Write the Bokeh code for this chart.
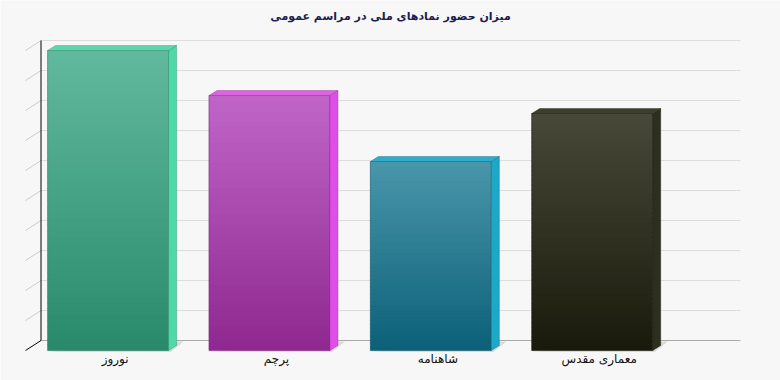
import numpy as np
from bokeh.plotting import figure
from bokeh.models import Range1d
from bokeh.core.properties import value
from bokeh.embed import file_html
from bokeh.resources import INLINE

# ---------------- data ----------------
title_text = "میزان حضور نمادهای ملی در مراسم عمومی"
categories = ["نوروز", "پرچم", "شاهنامه", "معماری مقدس"]
values = [100, 85, 63, 79]
y_ticks = list(range(0, 101, 10))

front_top_colors = ["#62b99e", "#c065c8", "#4a96aa", "#484838"]
front_bottom_colors = ["#288a6a", "#8e288e", "#0b6078", "#1a1a0c"]
side_colors = ["#4fd8a8", "#e04ee8", "#1ea8c8", "#2c2e1e"]
topface_colors = ["#5cd8ac", "#dc64e0", "#2eaccb", "#3c3e2e"]
edge_colors = ["#2a7e62", "#86268a", "#0c5a70", "#141408"]

# ---------------- geometry ----------------
W, H = 780, 380
x_start, x_end = -0.6667, 4.1667
y_start, y_end = -10.0, 116.667
PX = (x_end - x_start) / W      # data units per pixel (x)
PY = (y_end - y_start) / H      # data units per pixel (y)

half_w = 60.5 * PX
bar_dx, bar_dy = 8 * PX, 5 * PY
wall_dx, wall_dy = 15 * PX, 10 * PY
front_left = x_start + 25 * PX
wall_left = x_start + 40.5 * PX
wall_right = x_start + 740 * PX


def hex2rgb(h):
    h = h.lstrip("#")
    return np.array([int(h[i:i + 2], 16) for i in (0, 2, 4)], dtype=float)


def rgb2hex(c):
    c = np.clip(np.round(c), 0, 255).astype(int)
    return "#%02x%02x%02x" % tuple(c)


p = figure(width=W, height=H,
           x_range=Range1d(x_start, x_end), y_range=Range1d(y_start, y_end),
           output_backend="svg", toolbar_location=None,
           x_axis_type=None, y_axis_type=None,
           min_border=0, min_border_left=0, min_border_right=0,
           min_border_top=0, min_border_bottom=0,
           background_fill_color="#f7f7f7", border_fill_color="#f7f7f7",
           outline_line_color=None)

# back wall grid lines
ticks = np.array(y_ticks, dtype=float)
grid_col = ["#a9a9a9" if t == 0 else "#dddddd" for t in ticks]
p.segment(x0=[wall_left] * len(ticks), y0=ticks + wall_dy,
          x1=[wall_right] * len(ticks), y1=ticks + wall_dy,
          line_color=grid_col, line_width=1)

# left diagonal ticks
diag_col = ["#000000" if t == 0 else "#cccccc" for t in ticks]
p.segment(x0=[front_left] * len(ticks), y0=ticks,
          x1=[wall_left] * len(ticks), y1=ticks + wall_dy,
          line_color=diag_col, line_width=1)

# vertical axis line on back wall
p.segment(x0=[wall_left], y0=[ticks[0] + wall_dy], x1=[wall_left], y1=[ticks[-1] + wall_dy],
          line_color="#000000", line_width=1)

idx = np.arange(len(values), dtype=float)
vals = np.array(values, dtype=float)
xl = idx - half_w
xr = idx + half_w

# floor shadows
sh_xs, sh_ys = [], []
for i in range(len(values)):
    sh_xs.append([xl[i] - 3 * PX, xr[i] + 2 * PX, xr[i] + 15 * PX, xr[i] + 6 * PX])
    sh_ys.append([-0.5, -0.5, wall_dy - 0.3, wall_dy - 0.3])
p.patches(xs=sh_xs, ys=sh_ys, fill_color="#d6d6d6", line_color=None, fill_alpha=0.9)

# front faces as gradient strips
N = 50
L, R, B, T, C = [], [], [], [], []
for i, v in enumerate(values):
    ct = hex2rgb(front_top_colors[i])
    cb = hex2rgb(front_bottom_colors[i])
    for k in range(N):
        f = (k + 0.5) / N
        y0 = v * k / N
        y1 = v * (k + 1) / N
        L.append(xl[i]); R.append(xr[i])
        B.append(y0 - (0.25 if k > 0 else 0)); T.append(y1)
        C.append(rgb2hex(cb + (ct - cb) * f))
p.quad(left=L, right=R, bottom=B, top=T, fill_color=C, line_color=None)

# front outlines
p.quad(left=xl, right=xr, bottom=[0] * len(values), top=vals,
       fill_color=None, line_color=edge_colors, line_width=1, line_alpha=0.6)

# side faces and top faces
side_xs, side_ys, top_xs, top_ys = [], [], [], []
for i, v in enumerate(values):
    side_xs.append([xr[i], xr[i] + bar_dx, xr[i] + bar_dx, xr[i]])
    side_ys.append([0, bar_dy, v + bar_dy, v])
    top_xs.append([xl[i], xl[i] + bar_dx, xr[i] + bar_dx, xr[i]])
    top_ys.append([v, v + bar_dy, v + bar_dy, v])
p.patches(xs=side_xs, ys=side_ys, fill_color=side_colors, line_color=edge_colors,
          line_width=0.7, line_alpha=0.5)
p.patches(xs=top_xs, ys=top_ys, fill_color=topface_colors, line_color=edge_colors,
          line_width=0.7, line_alpha=0.5)

# category labels
p.text(x=idx + 7 * PX, y=[-(8 * PY)] * len(categories), text=categories,
       text_align="center", text_baseline="middle",
       text_font=value("DejaVu Sans"), text_font_size="12px", text_color="#111111")

# title
p.text(x=[(x_start + x_end) / 2], y=[y_end - 16 * PY], text=[title_text],
       text_align="center", text_baseline="middle",
       text_font=value("DejaVu Sans"), text_font_size="11px", text_font_style="bold",
       text_color="#1c1c50")

open("out.html", "w").write(file_html(p, INLINE))
